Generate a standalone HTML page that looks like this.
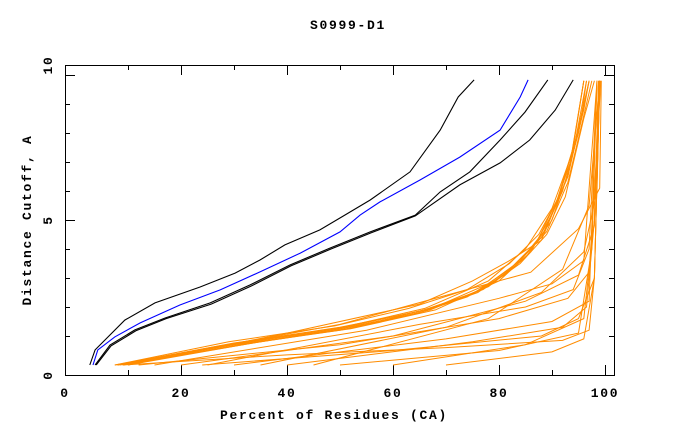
<!DOCTYPE html>
<html><head><meta charset="utf-8"><style>
body{margin:0;background:#fff;}
svg text{font-family:"Liberation Mono",monospace;font-weight:bold;font-size:13px;letter-spacing:1.7px;fill:#000;}
</style></head><body>
<svg id="chart" width="680" height="440" xmlns="http://www.w3.org/2000/svg">
<rect width="680" height="440" fill="#fff"/>
<text x="348" y="29" text-anchor="middle">S0999-D1</text>
<text x="334" y="419" text-anchor="middle">Percent of Residues (CA)</text>
<text transform="translate(31,220) rotate(-90)" text-anchor="middle">Distance Cutoff, A</text>
<g id="ticks"></g>
<g id="series"></g>
<rect x="65.5" y="65.5" width="549" height="310" fill="none" stroke="#000" stroke-width="1"/>
</svg>
<script>
const xTicks=[10,20,30,40,50,60,70,80,90,100];
const xLabels=["0","20","40","60","80","100"];
const xLabelVals=[0,20,40,60,80,100];
const yTicks=[1,2,3,4,5,6,7,8,9,10];
const yLabels=["0","5","10"];
const yLabelVals=[0,5,10];
const blackUpper=[[2.8,0],[3.8,0.52],[9.4,1.55],[15.1,2.14],[23.6,2.69],[30.2,3.17],[34.9,3.62],[39.6,4.14],[46.2,4.66],[50.9,5.17],[55.7,5.69],[63.2,6.66],[68.9,8.1],[72.3,9.24],[75.3,9.83]];
const blueSeries=[[3.4,0],[4.3,0.52],[7.5,0.97],[12.3,1.45],[19.8,2.07],[27.4,2.59],[34.9,3.21],[42.5,3.86],[50,4.59],[53.8,5.17],[57.5,5.62],[65.1,6.38],[72.6,7.17],[80.2,8.1],[84,9.24],[85.5,9.83]];
const blackA=[[3.8,0],[6.6,0.69],[11.3,1.21],[17,1.62],[25.5,2.14],[33,2.76],[40.6,3.45],[48.1,4.03],[55.7,4.59],[64.2,5.17],[68.9,5.97],[74.5,6.66],[80.2,7.76],[84.9,8.72],[89.2,9.83]];
const blackB=[[4.0,0],[6.8,0.66],[11.5,1.18],[17.2,1.6],[25.7,2.1],[33.2,2.72],[40.8,3.42],[48.3,4.0],[55.9,4.56],[64.2,5.14],[72.6,6.21],[80.2,6.97],[85.8,7.76],[90.6,8.79],[94,9.83]];
const orangeSeries=[
[[7.5,0],[30,0.75],[50,1.3],[65,1.85],[75,2.45],[82,3.3],[88,4.4],[92,6],[95,8],[97,9.8]],
[[8,0],[30,0.72],[50,1.25],[65,1.8],[76,2.5],[83,3.4],[89,4.6],[93,6.3],[95.5,8.2],[97.5,9.8]],
[[8.5,0],[32,0.78],[52,1.35],[66,1.9],[77,2.6],[84,3.5],[89,4.5],[92.5,5.8],[96,8.5],[98,9.8]],
[[9,0],[31,0.7],[50,1.2],[64,1.75],[74,2.35],[81,3.1],[87,4.2],[91.5,5.9],[94.5,7.8],[96.5,9.8]],
[[7.5,0],[29,0.8],[49,1.35],[63,1.95],[74,2.6],[82,3.5],[87.5,4.5],[91,5.7],[94,7.5],[96,9.8]],
[[10,0],[33,0.74],[53,1.3],[67,1.9],[78,2.7],[85,3.7],[90,5],[93,6.6],[96,8.8],[97,9.8]],
[[8,0],[30,0.76],[50,1.28],[66,1.95],[78,2.9],[85,4],[90,5.4],[94,7.4],[97,9.8]],
[[9,0],[35,0.8],[55,1.4],[68,2.0],[78,2.8],[84,3.6],[88.5,4.6],[93,6.5],[95.5,8.5],[96.5,9.8]],
[[10,0],[40,1.1],[65,2.1],[75,2.9],[82,3.6],[88,4.3],[93,6.5],[96,9.8]],
[[8,0],[30,0.7],[52,1.25],[68,1.9],[80,2.9],[86,3.9],[90,5.2],[93.5,7],[96,9.8]],
[[9,0],[40,0.35],[70,0.6],[92,0.85],[97,1.2],[98,3],[99,9.8]],
[[24,0],[60,0.5],[88,1.0],[95,1.6],[98,3],[99,9.8]],
[[30,0],[70,0.9],[90,1.5],[97,2.2],[98.5,9.8]],
[[40,0],[75,0.8],[92,1.3],[96.5,2.0],[98,5],[98.8,9.8]],
[[50,0],[80,0.5],[95,1.1],[97.5,4],[98.5,9.8]],
[[12,0],[50,0.7],[80,1.6],[93,2.3],[97,3.2],[98,6],[99.2,9.8]],
[[20,0],[60,1.0],[85,2.2],[95,3.1],[98,4.8],[99,9.8]],
[[15,0],[55,1.2],[80,2.3],[90,2.8],[96,3.6],[98.5,9.8]],
[[35,0],[70,1.3],[88,2.5],[96,3.9],[98.5,6],[99,9.8]],
[[60,0],[85,0.7],[96,1.6],[98,5],[98.8,9.8]],
[[25,0],[65,1.4],[85,2.0],[94,2.6],[97,4],[98.5,9.8]],
[[45,0],[78,1.6],[92,3.3],[97,5.5],[99,9.8]],
[[70,0],[90,0.45],[96,0.9],[98,3],[99,9.8]],
[[8,0],[50,1.4],[70,2.4],[86,3.2],[95,4.7],[99,6.1],[99.3,9.8]]
];
const NS="http://www.w3.org/2000/svg";
function X(v){return 75+5.3*v;}
function Y(v){return 365-29*v;}
const tg=document.getElementById('ticks');
function line(x1,y1,x2,y2,name){
  const l=document.createElementNS(NS,'line');
  l.setAttribute('x1',x1);l.setAttribute('y1',y1);l.setAttribute('x2',x2);l.setAttribute('y2',y2);
  l.setAttribute('stroke','#000');
  
  
  tg.appendChild(l);
}
xTicks.forEach(v=>{const len=(v%20===0)?10:5;const x=Math.round(X(v))+0.5;
  line(x,375,x,375-len,'x-tick');line(x,65,x,65+len,'x-tick-top');});
yTicks.forEach(v=>{const len=(v%5===0)?10:5;const y=Math.round(Y(v))+0.5;
  line(65,y,65+len,y,'y-tick');line(614,y,614-len,y,'y-tick-right');});
xLabelVals.forEach((v,i)=>{const t=document.createElementNS(NS,'text');
  t.setAttribute('x',v===0?65:X(v));t.setAttribute('y',397);t.setAttribute('text-anchor','middle');
  t.textContent=xLabels[i];
  
  
  tg.appendChild(t);});
yLabelVals.forEach((v,i)=>{const t=document.createElementNS(NS,'text');
  const y=v===0?375:(v===10?65:Y(v));
  t.setAttribute('transform','translate(52,'+y+') rotate(-90)');t.setAttribute('text-anchor','middle');
  t.textContent=yLabels[i];
  
  
  tg.appendChild(t);});
const sg=document.getElementById('series');
function poly(data,color,w,name){
  const p=document.createElementNS(NS,'polyline');
  p.setAttribute('points',data.map(d=>X(d[0]).toFixed(1)+','+Y(d[1]).toFixed(1)).join(' '));
  p.setAttribute('fill','none');p.setAttribute('stroke',color);p.setAttribute('stroke-width',w);
  
  
  sg.appendChild(p);
}
orangeSeries.forEach(s=>poly(s,'#ff8c00',1,'orange-series'));
poly(blackA,'#000',1.1,'black-series-a');
poly(blackB,'#000',1.1,'black-series-b');
poly(blackUpper,'#000',1.1,'black-series-upper');
poly(blueSeries,'#0000ff',1.1,'blue-series');
</script>
</body></html>
